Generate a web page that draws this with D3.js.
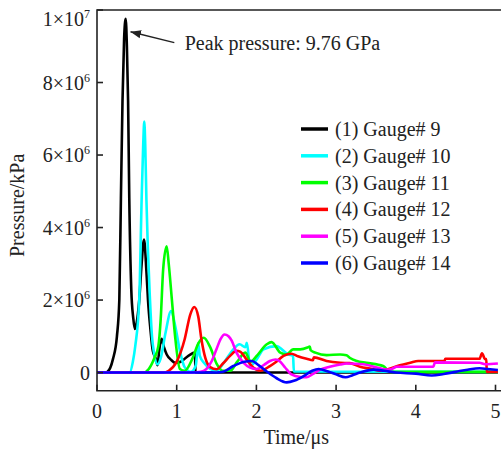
<!DOCTYPE html>
<html>
<head>
<meta charset="utf-8">
<script src="https://cdn.jsdelivr.net/npm/d3@7"></script>
<style>
body { margin: 0; background: #fff; }
text { font-family: "Liberation Serif", "Times New Roman", serif; fill: #222; }
</style>
</head>
<body>
<div class="container"></div>
<script>
const wd = 501
const ht = 455

// series names and colours
const names = ["(1) Gauge# 9", "(2) Gauge# 10", "(3) Gauge# 11", "(4) Gauge# 12", "(5) Gauge# 13", "(6) Gauge# 14"]
const colors = ["#000000", "#00ffff", "#00ff00", "#ff0000", "#ff00ff", "#0000ff"]

// [time (us), pressure (kPa)]
const gauge9 = [[0,0],[0.1,0],[0.13,0.02e6],[0.2,0.37e6],[0.25,1.0e6],[0.28,2.0e6],[0.30,4.8e6],[0.32,7.5e6],[0.34,9.2e6],[0.36,9.76e6],[0.375,9.0e6],[0.39,7.5e6],[0.405,4.8e6],[0.43,2.3e6],[0.455,1.5e6],[0.475,1.2e6],[0.5,1.4e6],[0.53,2.0e6],[0.56,3.0e6],[0.59,3.67e6],[0.62,2.8e6],[0.64,2.0e6],[0.67,1.2e6],[0.7,0.6e6],[0.74,0.37e6],[0.76,0.2e6],[0.78,0.6e6],[0.81,0.93e6],[0.84,0.7e6],[0.875,0.5e6],[0.93,0.35e6],[0.98,0.27e6],[1.05,0.3e6],[1.15,0.47e6],[1.23,0.55e6],[1.235,0],[5.03,0]]
const gauge10 = [[0,0],[0.41,0],[0.45,0.3e6],[0.48,0.73e6],[0.53,2.0e6],[0.56,4.77e6],[0.58,6.3e6],[0.593,6.92e6],[0.605,6.3e6],[0.62,4.77e6],[0.665,2.0e6],[0.69,1.0e6],[0.715,0.55e6],[0.757,0.23e6],[0.8,0.4e6],[0.86,1.1e6],[0.93,1.7e6],[0.98,1.3e6],[1.04,0.6e6],[1.1,0.15e6],[1.18,0.02e6],[1.24,0.2e6],[1.27,0.82e6],[1.29,0.46e6],[1.35,0.25e6],[1.42,0.1e6],[1.5,0.05e6],[1.6,0.3e6],[1.71,0.64e6],[1.79,0.78e6],[1.86,0.7e6],[1.88,0.82e6],[1.92,0.18e6],[2.0,0.35e6],[2.09,0.64e6],[2.25,0.73e6],[2.4,0.5e6],[2.46,0.46e6],[2.47,0.03e6],[5.03,0.02e6]]
const gauge11 = [[0,0],[0.58,0],[0.65,0.1e6],[0.72,0.4e6],[0.77,0.73e6],[0.8,1.5e6],[0.83,2.84e6],[0.874,3.48e6],[0.9,3.0e6],[0.94,2.0e6],[0.98,1.0e6],[1.04,0.1e6],[1.1,0.05e6],[1.2,0.4e6],[1.27,0.8e6],[1.34,0.96e6],[1.42,0.7e6],[1.5,0.25e6],[1.58,0.05e6],[1.67,0.05e6],[1.76,0.3e6],[1.86,0.55e6],[1.93,0.3e6],[2.0,0.45e6],[2.13,0.78e6],[2.19,0.84e6],[2.3,0.55e6],[2.38,0.5e6],[2.46,0.64e6],[2.55,0.64e6],[2.64,0.69e6],[2.67,0.72e6],[2.68,0.62e6],[2.74,0.55e6],[2.88,0.48e6],[3.05,0.5e6],[3.13,0.48e6],[3.17,0.41e6],[3.26,0.32e6],[3.38,0.27e6],[3.59,0.18e6],[3.68,0.02e6],[5.03,0.02e6]]
const gauge12 = [[0,0],[0.83,0],[0.9,0.05e6],[1.0,0.3e6],[1.1,0.92e6],[1.17,1.6e6],[1.22,1.81e6],[1.27,1.55e6],[1.31,0.92e6],[1.36,0.4e6],[1.42,0.15e6],[1.5,0.09e6],[1.58,0.25e6],[1.67,0.46e6],[1.75,0.6e6],[1.8,0.57e6],[1.88,0.35e6],[1.96,0.14e6],[2.05,0.05e6],[2.17,0.18e6],[2.25,0.3e6],[2.34,0.46e6],[2.44,0.52e6],[2.52,0.45e6],[2.63,0.38e6],[2.71,0.34e6],[2.72,0.42e6],[2.88,0.32e6],[3.05,0.27e6],[3.17,0.26e6],[3.3,0.16e6],[3.45,0.1e6],[3.55,0.05e6],[3.63,0.08e6],[3.8,0.2e6],[3.93,0.27e6],[4.03,0.32e6],[4.36,0.32e6],[4.37,0.38e6],[4.8,0.38e6],[4.83,0.53e6],[4.87,0.37e6],[4.885,0.37e6],[4.89,0.02e6],[5.03,0.02e6]]
const gauge13 = [[0,0],[1.2,0],[1.3,0.02e6],[1.37,0.09e6],[1.44,0.32e6],[1.5,0.65e6],[1.55,0.92e6],[1.6,1.05e6],[1.65,1.0e6],[1.69,0.88e6],[1.75,0.55e6],[1.84,0.27e6],[1.92,0.14e6],[2.0,0.1e6],[2.1,0.22e6],[2.17,0.32e6],[2.24,0.36e6],[2.3,0.3e6],[2.36,0.14e6],[2.44,-0.05e6],[2.55,-0.12e6],[2.63,-0.13e6],[2.7,-0.05e6],[2.8,0.08e6],[2.92,0.16e6],[3.05,0.22e6],[3.13,0.25e6],[3.34,0.23e6],[3.51,0.14e6],[3.63,0.08e6],[3.7,0.1e6],[3.76,0.16e6],[4.22,0.16e6],[4.24,0.28e6],[4.8,0.27e6],[4.87,0.23e6],[5.03,0.25e6]]
const gauge14 = [[0,0],[1.5,0],[1.58,0.02e6],[1.71,0.18e6],[1.85,0.3e6],[1.94,0.32e6],[2.03,0.2e6],[2.13,0.03e6],[2.25,-0.15e6],[2.38,-0.27e6],[2.48,-0.22e6],[2.59,-0.1e6],[2.7,0.05e6],[2.78,0.1e6],[2.9,0.03e6],[3.0,-0.05e6],[3.12,-0.13e6],[3.2,-0.08e6],[3.3,0],[3.47,0.08e6],[3.6,0.05e6],[3.75,0],[4.0,-0.03e6],[4.2,-0.08e6],[4.35,-0.04e6],[4.5,0.02e6],[4.65,0.08e6],[4.8,0.12e6],[4.9,0.1e6],[5.03,0.07e6]]
const series = [gauge9, gauge10, gauge11, gauge12, gauge13, gauge14]

const xTicks = [0, 1, 2, 3, 4, 5]
const yTicks = [0, 2e6, 4e6, 6e6, 8e6, 1e7]
const peak = {t: 0.36, p: 9.76e6, label: "Peak pressure: 9.76 GPa"}

const svgC = d3.select(".container")
.append("svg")
.attr("width", wd)
.attr("height", ht)

const xScale = d3.scaleLinear()
.domain([0, 5])
.range([97, 495.5])

const yScale = d3.scaleLinear()
.domain([-5e5, 1e7])
.range([390.7, 10])

const lineObj = d3.line()
.x(d => xScale(d[0]))
.y(d => yScale(d[1]))
.curve(d3.curveMonotoneX)

// curves, black first so blue ends on top
series.forEach((s, i) => {
  svgC.append("path")
  .attr("d", lineObj(s))
  .attr("fill", "none")
  .style("stroke", colors[i])
  .style("stroke-width", "2.6px")
  .style("stroke-linejoin", "round")
})

// frame
const x0 = xScale.range()[0], yB = yScale.range()[0], yT = yScale.range()[1]
svgC.append("path")
.attr("d", `M${wd},${yT}H${x0}V${yB}H${wd}`)
.attr("fill", "none")
.style("stroke", "#222")
.style("stroke-width", "1.6px")

// x ticks
xTicks.forEach(t => {
  svgC.append("line")
  .attr("x1", xScale(t)).attr("x2", xScale(t))
  .attr("y1", yB).attr("y2", yB - 6)
  .style("stroke", "#222").style("stroke-width", "1.6px")
  svgC.append("text")
  .attr("x", xScale(t)).attr("y", yB + 27)
  .attr("text-anchor", "middle")
  .style("font-size", "20px")
  .text(t)
})

// y ticks with superscript labels (top one nudged down to stay inside)
yTicks.forEach((v, i) => {
  svgC.append("line")
  .attr("x1", x0).attr("x2", x0 + 6)
  .attr("y1", yScale(v)).attr("y2", yScale(v))
  .style("stroke", "#222").style("stroke-width", "1.6px")
  const nudge = i === yTicks.length - 1 ? 9 : 0
  const tx = svgC.append("text")
  .attr("x", x0 - 7).attr("y", yScale(v) + 7 + nudge)
  .attr("text-anchor", "end")
  .style("font-size", "20px")
  if (v === 0) { tx.text("0"); return }
  const e = Math.floor(Math.log10(v))
  const m = Math.round(v / Math.pow(10, e))
  tx.append("tspan").text(m + "\u00d710")
  tx.append("tspan").attr("dy", -8).style("font-size", "12px").text(e)
})

// axis titles
svgC.append("text")
.attr("x", (xScale(0) + xScale(5)) / 2).attr("y", 444)
.attr("text-anchor", "middle")
.style("font-size", "20px")
.text("Time/\u03bcs")

svgC.append("text")
.attr("transform", `translate(24,${(yB + yT) / 2 + 5}) rotate(-90)`)
.attr("text-anchor", "middle")
.style("font-size", "20px")
.text("Pressure/kPa")

// peak annotation
svgC.append("defs").append("marker")
.attr("id", "arr")
.attr("viewBox", "0 0 10 10")
.attr("refX", 10).attr("refY", 5)
.attr("markerWidth", 7).attr("markerHeight", 7)
.attr("orient", "auto")
.append("path").attr("d", "M0,1L10,5L0,9Z").attr("fill", "#222")

svgC.append("line")
.attr("x1", xScale(0.97)).attr("y1", yScale(9.1e6))
.attr("x2", xScale(0.42)).attr("y2", yScale(9.4e6))
.style("stroke", "#222").style("stroke-width", "1.5px")
.attr("marker-end", "url(#arr)")

svgC.append("text")
.attr("x", xScale(1.1)).attr("y", yScale(9.1e6) + 7)
.style("font-size", "20px")
.text(peak.label)

// legend
names.forEach((n, i) => {
  const ly = 129 + i * 26.8
  svgC.append("line")
  .attr("x1", 301).attr("x2", 328)
  .attr("y1", ly).attr("y2", ly)
  .style("stroke", colors[i]).style("stroke-width", "3.5px")
  svgC.append("text")
  .attr("x", 335).attr("y", ly + 7)
  .style("font-size", "20px")
  .text(n)
})
</script>
</body>
</html>
